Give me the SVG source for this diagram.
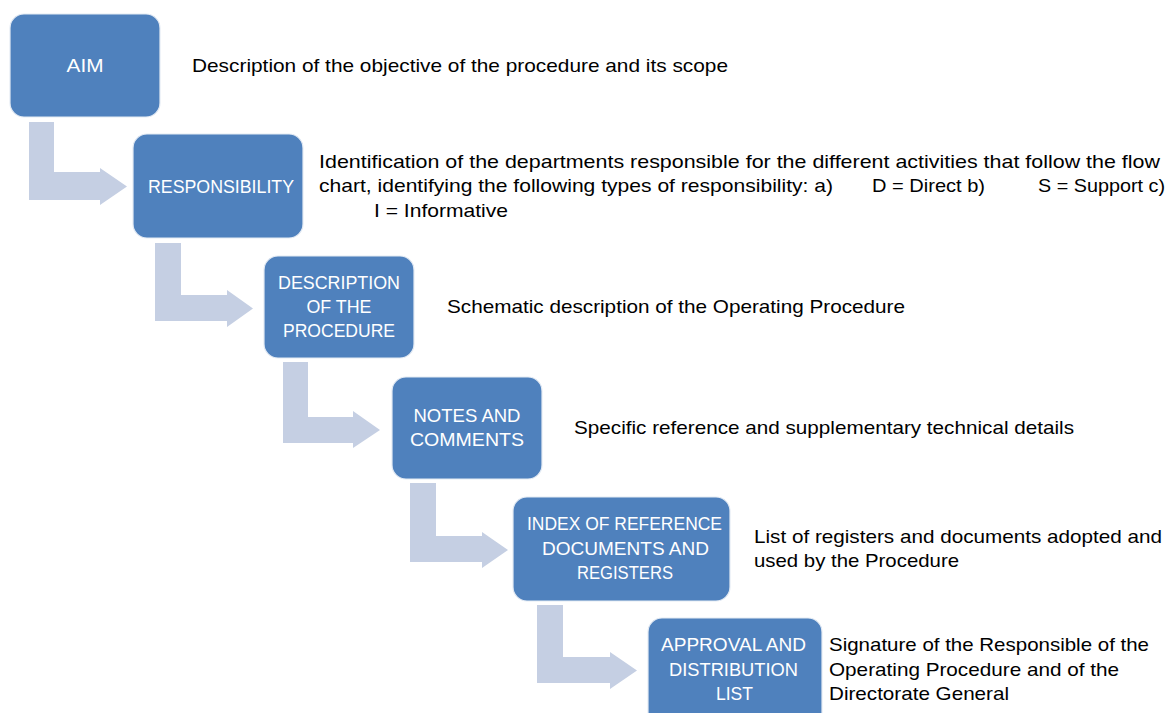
<svg xmlns="http://www.w3.org/2000/svg" width="1168" height="713" viewBox="0 0 1168 713">
<style>
.box{fill:#4f81bd;stroke:#e4ebf4;stroke-width:1.2}
.arr{fill:#c5cfe3}
.lbl{font-family:"Liberation Sans",Arial,sans-serif;font-size:18px;fill:#ffffff;text-anchor:middle}
.desc{font-family:"Liberation Sans",Arial,sans-serif;font-size:19px;fill:#000000}
</style>
<rect x="0" y="0" width="1168" height="713" fill="#ffffff"/>
<g id="connectors">
<polygon class="arr" points="29,122 54,122 54,172 100,172 100,168 127,186.5 100,205 100,200 29,200"/>
<polygon class="arr" points="155,243 181,243 181,295 227,295 227,290 253,308.5 227,327 227,321 155,321"/>
<polygon class="arr" points="283,362 308,362 308,417 353,417 353,411 380,430 353,448 353,443 283,443"/>
<polygon class="arr" points="410,483 436,483 436,536 482,536 482,532 508,550 482,568 482,562 410,562"/>
<polygon class="arr" points="537,605 563,605 563,657 610,657 610,652 637,670.5 610,689 610,683 537,683"/>
</g>
<g id="node-aim">
<rect class="box" x="10" y="14" width="150" height="103" rx="14"/>
<text class="lbl" x="85" y="72" textLength="37" lengthAdjust="spacingAndGlyphs">AIM</text>
<text class="desc" x="192" y="72" textLength="536" lengthAdjust="spacingAndGlyphs">Description of the objective of the procedure and its scope</text>
</g>
<g id="node-responsibility">
<rect class="box" x="133" y="134" width="170" height="104" rx="14"/>
<text class="lbl" x="221" y="193" textLength="146" lengthAdjust="spacingAndGlyphs">RESPONSIBILITY</text>
<text class="desc" x="319" y="168" textLength="841" lengthAdjust="spacingAndGlyphs">Identification of the departments responsible for the different activities that follow the flow</text>
<text class="desc" x="319" y="192" textLength="514" lengthAdjust="spacingAndGlyphs">chart, identifying the following types of responsibility: a)</text>
<text class="desc" x="872" y="192" textLength="113" lengthAdjust="spacingAndGlyphs">D = Direct b)</text>
<text class="desc" x="1038" y="192" textLength="127" lengthAdjust="spacingAndGlyphs">S = Support c)</text>
<text class="desc" x="374" y="217" textLength="134" lengthAdjust="spacingAndGlyphs">I = Informative</text>
</g>
<g id="node-description">
<rect class="box" x="264" y="256" width="150" height="102" rx="14"/>
<text class="lbl" x="339" y="289" textLength="122" lengthAdjust="spacingAndGlyphs">DESCRIPTION</text>
<text class="lbl" x="339" y="313" textLength="65" lengthAdjust="spacingAndGlyphs">OF THE</text>
<text class="lbl" x="339" y="337" textLength="112" lengthAdjust="spacingAndGlyphs">PROCEDURE</text>
<text class="desc" x="447" y="313" textLength="458" lengthAdjust="spacingAndGlyphs">Schematic description of the Operating Procedure</text>
</g>
<g id="node-notes">
<rect class="box" x="392" y="377" width="150" height="102" rx="14"/>
<text class="lbl" x="467" y="422" textLength="107" lengthAdjust="spacingAndGlyphs">NOTES AND</text>
<text class="lbl" x="467" y="446" textLength="114" lengthAdjust="spacingAndGlyphs">COMMENTS</text>
<text class="desc" x="574" y="434" textLength="500" lengthAdjust="spacingAndGlyphs">Specific reference  and supplementary technical details</text>
</g>
<g id="node-index">
<rect class="box" x="513" y="497" width="217" height="104" rx="14"/>
<text class="lbl" x="624.5" y="530" textLength="195" lengthAdjust="spacingAndGlyphs">INDEX OF REFERENCE</text>
<text class="lbl" x="625.5" y="555" textLength="167" lengthAdjust="spacingAndGlyphs">DOCUMENTS AND</text>
<text class="lbl" x="625" y="579" textLength="96" lengthAdjust="spacingAndGlyphs">REGISTERS</text>
<text class="desc" x="754" y="543" textLength="408" lengthAdjust="spacingAndGlyphs">List of registers and documents adopted and</text>
<text class="desc" x="754" y="567" textLength="205" lengthAdjust="spacingAndGlyphs">used by the Procedure</text>
</g>
<g id="node-approval">
<rect class="box" x="648" y="618" width="174" height="110" rx="14"/>
<text class="lbl" x="733.5" y="651" textLength="145" lengthAdjust="spacingAndGlyphs">APPROVAL AND</text>
<text class="lbl" x="733.5" y="676" textLength="129" lengthAdjust="spacingAndGlyphs">DISTRIBUTION</text>
<text class="lbl" x="734.5" y="700" textLength="37" lengthAdjust="spacingAndGlyphs">LIST</text>
<text class="desc" x="829" y="651" textLength="320" lengthAdjust="spacingAndGlyphs">Signature of the Responsible of the</text>
<text class="desc" x="829" y="676" textLength="290" lengthAdjust="spacingAndGlyphs">Operating Procedure and of the</text>
<text class="desc" x="829" y="700" textLength="180" lengthAdjust="spacingAndGlyphs">Directorate General</text>
</g>
</svg>
